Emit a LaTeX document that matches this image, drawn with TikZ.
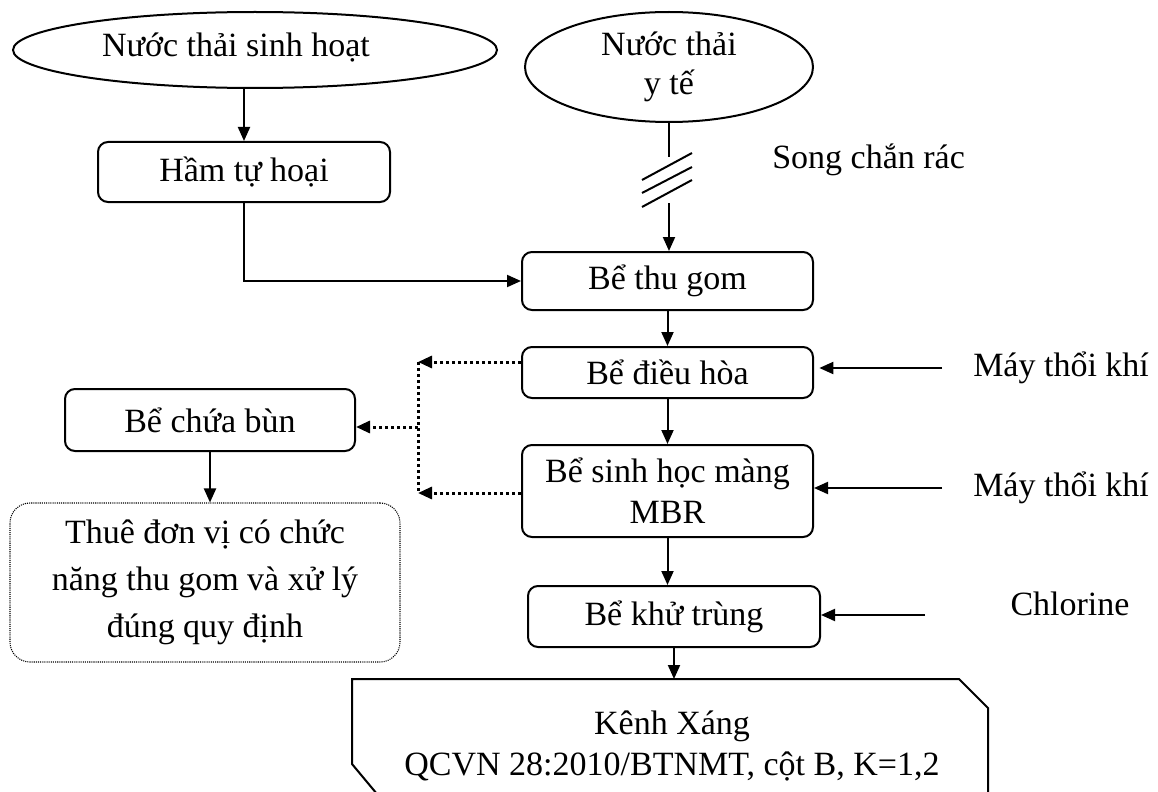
\documentclass[tikz,border=0pt]{standalone}
\usepackage{fontspec}
\setmainfont{Liberation Serif}
\usetikzlibrary{arrows.meta,shapes.geometric,calc}
\begin{document}
\begin{tikzpicture}[x=0.75pt,y=-0.75pt]
\tikzset{
 base/.style={font=\fontsize{25.5pt}{30.75pt}\selectfont, align=center, inner sep=0pt},
 tank/.style={base, draw, line width=1.5pt, rounded corners=7.5pt},
 src/.style={base, draw, ellipse, line width=1.5pt},
 lbl/.style={base},
 arr/.style={line width=1.5pt, -{Triangle[length=10.5pt,width=9pt]}},
 wire/.style={line width=1.5pt},
 dotarr/.style={line width=2.25pt, dash pattern=on 2.25pt off 2.25pt, -{Triangle[length=10.5pt,width=9pt]}},
 dotwire/.style={line width=2.25pt, dash pattern=on 2.25pt off 2.25pt},
 note/.style={base, draw, line width=0.8pt, dash pattern=on 0.8pt off 0.8pt, rounded corners=15pt}
}
\useasboundingbox (0,0) rectangle (1158,792);
\clip (0,0) rectangle (1158,792);

% sources
\node[src, minimum width=363pt, minimum height=57pt] (e1) at (255,50) {};
\node[lbl] (e1t) at (236,47) {Nước thải sinh hoạt};
\node[src, minimum width=216pt, minimum height=82.5pt] (e2) at (669,67) {Nước thải\\[-2pt]y tế};

% tanks
\node[tank, minimum width=219pt, minimum height=45pt] (ham) at (244,172) {Hầm tự hoại};
\node[tank, minimum width=218.25pt, minimum height=43.5pt] (thugom) at (667.5,281) {Bể thu gom};
\node[tank, minimum width=218.25pt, minimum height=38.25pt] (dieuhoa) at (667.5,372.5) {Bể điều hòa};
\node[tank, minimum width=218.25pt, minimum height=69pt] (mbr) at (667.5,491) {Bể sinh học màng\\MBR};
\node[tank, minimum width=219pt, minimum height=45.75pt] (khutrung) at (674,616.5) {Bể khử trùng};
\node[tank, minimum width=217.5pt, minimum height=46.5pt] (chuabun) at (210,420) {Bể chứa bùn};
\node[note, minimum width=292.5pt, minimum height=119.25pt, font=\fontsize{25.5pt}{35.25pt}\selectfont] (thue) at (205,582.5) {Thuê đơn vị có chức\\năng thu gom và xử lý\\đúng quy định};

% labels
\node[lbl, anchor=west] (song) at (772,160) {Song chắn rác};
\node[lbl, anchor=west] (mtk1) at (973,368) {Máy thổi khí};
\node[lbl, anchor=west] (mtk2) at (973,488) {Máy thổi khí};
\node[lbl] (clo) at (1070,604) {Chlorine};

% outlet
\draw[wire] (382,800) -- (352,764) -- (352,679) -- (959,679) -- (988,708) -- (988,800);
\coordinate (outtop) at (673,679);
\node[lbl] (kenh) at (672,746) {Kênh Xáng\\QCVN 28:2010/BTNMT, cột B, K=1,2};

% main flow
\draw[arr] (e1.south -| ham.north) -- (ham.north);
\draw[arr] (ham.south) -- (ham.south |- thugom.west) -- (thugom.west);
\coordinate (h1) at (669,157);
\coordinate (h2) at (669,203);
\draw[wire] (e2.south) -- (h1);
\draw[wire] (642,180) -- (692,153);
\draw[wire] (642,193) -- (692,167);
\draw[wire] (642,207) -- (692,180);
\draw[arr] (h2) -- (h2 |- thugom.north);
\draw[arr] (thugom.south) -- (dieuhoa.north);
\draw[arr] (dieuhoa.south) -- (mbr.north);
\draw[arr] (mbr.south) -- (mbr.south |- khutrung.north);
\draw[arr] (khutrung.south) -- (khutrung.south |- outtop);

% air / chlorine
\coordinate (a1) at (942,368);
\coordinate (a2) at (942,488);
\coordinate (a3) at (925,615);
\draw[arr, shorten >=4pt] (a1) -- (a1 -| dieuhoa.east);
\draw[arr] (a2) -- (a2 -| mbr.east);
\draw[arr] (a3) -- (a3 -| khutrung.east);

% sludge
\coordinate (j1) at (418,362);
\coordinate (j2) at (418,493);
\coordinate (jm) at (418,427);
\draw[dotarr] (j1 -| dieuhoa.west) -- (j1);
\draw[dotwire] (j1) -- (j2);
\draw[dotarr] (j2 -| mbr.west) -- (j2);
\draw[dotarr] (jm) -- (jm -| chuabun.east);
\draw[arr] (chuabun.south) -- (chuabun.south |- thue.north);
\end{tikzpicture}
\end{document}
